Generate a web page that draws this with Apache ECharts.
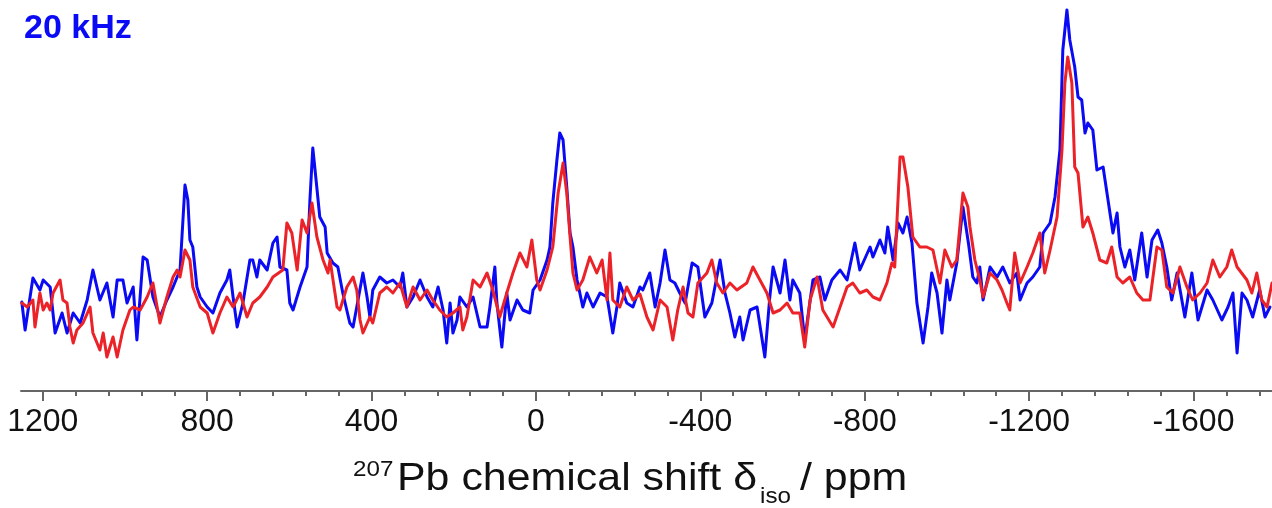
<!DOCTYPE html>
<html>
<head>
<meta charset="utf-8">
<script src="https://cdn.jsdelivr.net/npm/echarts@6/dist/echarts.min.js"></script>
<style>
html,body{margin:0;padding:0;background:#fff;}
#chart{width:1272px;height:508px;}
</style>
</head>
<body>
<div id="chart"></div>
<script>
// ---- data (ppm, intensity in arbitrary units) ----
const bluePpm = [1251,1243,1224,1207,1199,1182,1170,1153,1141,1126,1109,1092,1078,1061,1044,1029,1019,1005,995,980,971,956,946,932,915,898,883,866,854,847,842,835,825,817,800,786,769,752,745,737,727,713,696,689,679,672,654,640,630,623,606,599,591,574,557,550,543,535,526,513,508,494,482,470,453,445,436,421,411,404,397,380,363,348,331,324,314,299,282,265,251,238,226,217,209,202,192,185,168,153,136,119,112,100,95,83,71,63,46,32,15,7,-10,-27,-34,-41,-51,-58,-66,-75,-83,-90,-100,-114,-124,-139,-156,-173,-187,-197,-204,-221,-236,-253,-260,-277,-290,-302,-314,-326,-338,-350,-363,-380,-394,-411,-428,-448,-460,-472,-484,-496,-504,-521,-538,-557,-569,-577,-594,-606,-618,-625,-642,-654,-674,-691,-703,-720,-740,-757,-776,-788,-813,-820,-837,-849,-856,-869,-881,-893,-903,-915,-927,-942,-954,-963,-976,-988,-1000,-1007,-1024,-1039,-1053,-1063,-1073,-1080,-1088,-1105,-1122,-1136,-1153,-1170,-1178,-1195,-1209,-1226,-1234,-1251,-1263,-1275,-1282,-1292,-1299,-1311,-1319,-1328,-1336,-1343,-1355,-1365,-1380,-1392,-1404,-1414,-1421,-1433,-1445,-1457,-1474,-1487,-1499,-1513,-1523,-1535,-1547,-1560,-1579,-1596,-1611,-1633,-1647,-1669,-1684,-1696,-1706,-1718,-1730,-1744,-1761,-1774,-1786];
const blueInt = [89,61,113,101,111,104,58,78,58,78,68,91,121,91,108,74,111,111,88,104,51,134,131,94,74,91,104,121,206,191,151,144,104,94,84,78,98,111,121,94,64,88,131,131,114,131,121,148,154,124,121,88,81,104,124,191,243,211,174,164,138,128,124,98,68,64,84,118,94,74,101,114,108,111,104,118,84,94,111,94,84,104,81,48,88,58,71,94,84,94,64,64,84,124,88,44,98,71,91,81,78,101,111,131,144,188,231,258,251,204,158,144,111,84,98,84,98,94,58,84,108,88,84,104,101,118,84,108,141,111,108,98,88,128,124,74,88,131,98,78,54,74,51,81,84,34,94,124,98,131,91,111,98,51,111,114,91,111,121,111,148,121,144,134,151,138,164,131,168,158,174,148,88,48,84,118,98,58,111,91,128,184,146,114,108,124,91,124,114,124,108,118,91,108,114,124,158,168,194,241,341,381,351,324,294,291,258,268,261,221,224,191,158,178,144,124,141,111,158,114,151,161,148,124,91,118,74,118,71,101,91,71,84,98,38,98,91,74,101,74,84];
const redPpm = [1251,1238,1224,1219,1207,1199,1190,1182,1175,1158,1151,1141,1134,1126,1117,1102,1085,1078,1061,1053,1044,1029,1019,1005,988,980,963,946,932,915,898,883,873,866,854,842,835,817,800,786,769,752,737,720,703,689,672,654,640,616,606,594,581,569,557,545,533,518,506,501,484,477,460,445,436,428,421,404,397,380,363,348,331,314,299,282,265,251,234,217,202,185,178,168,153,136,119,105,88,71,56,39,22,10,-2,-10,-27,-41,-54,-66,-75,-83,-90,-100,-114,-131,-148,-161,-173,-180,-187,-204,-221,-236,-253,-270,-285,-302,-319,-333,-345,-358,-370,-382,-394,-416,-428,-440,-455,-472,-489,-513,-528,-545,-562,-577,-594,-611,-625,-642,-654,-667,-684,-698,-723,-740,-757,-771,-788,-805,-820,-837,-854,-866,-873,-886,-893,-905,-917,-934,-951,-966,-983,-995,-1012,-1024,-1039,-1051,-1056,-1068,-1080,-1088,-1105,-1122,-1134,-1146,-1153,-1165,-1178,-1195,-1209,-1226,-1238,-1251,-1268,-1280,-1287,-1294,-1304,-1311,-1319,-1331,-1343,-1355,-1372,-1389,-1401,-1414,-1428,-1445,-1462,-1477,-1494,-1511,-1523,-1535,-1550,-1567,-1584,-1598,-1616,-1633,-1647,-1664,-1681,-1693,-1706,-1730,-1742,-1754,-1766,-1779,-1791];
const redInt = [88,84,91,64,98,81,88,81,98,111,91,88,64,48,61,68,84,58,41,58,34,54,34,61,81,84,81,94,108,68,94,114,121,114,141,131,104,84,78,58,78,94,84,98,74,88,94,104,114,121,168,158,121,171,158,188,154,131,118,131,84,81,104,114,101,71,58,74,68,98,104,98,108,84,104,91,101,91,81,74,78,84,61,74,111,104,118,101,74,98,118,138,124,151,111,101,121,144,198,228,198,154,118,101,111,134,118,131,91,138,91,84,104,91,97,74,61,91,84,51,81,104,78,74,108,118,131,108,98,108,101,108,124,111,98,78,81,88,78,78,44,91,114,81,64,84,104,108,98,101,94,91,108,128,124,234,234,204,154,144,144,141,108,141,124,131,198,184,164,131,111,94,118,111,101,88,81,138,108,124,138,158,118,141,174,241,308,334,308,224,218,164,174,158,131,128,144,114,108,114,98,91,91,144,141,104,98,124,104,91,98,108,131,114,124,141,124,111,98,118,91,84,108];
const majorTicks = [1200, 800, 400, 0, -400, -800, -1200, -1600];
const titleText = '20 kHz';

const PPM_MIN = -1791, PPM_MAX = 1253;
const minorTicks = [];
for (let v = -1760; v <= 1200; v += 80) if (v % 400 !== 0) minorTicks.push(v);

const blueData = bluePpm.map((p, i) => [p, blueInt[i]]);
const redData = redPpm.map((p, i) => [p, redInt[i]]);

const FONT = '"Liberation Sans", Arial, Helvetica, sans-serif';
const SX = 1.1;
function label(text, x, y, size) {
  return {type: 'text', x: x, y: y, scaleX: SX, scaleY: 1, originX: 0, originY: 0, silent: true,
    style: {text: text, fontSize: size, fontFamily: FONT, fill: '#111', textAlign: 'left', textVerticalAlign: 'top'}};
}
const chart = echarts.init(document.getElementById('chart'), null, {renderer: 'canvas'});
chart.setOption({
  animation: false,
  backgroundColor: '#ffffff',
  title: {
    text: titleText, left: 24, top: 12, padding: 0,
    textStyle: {color: '#0a0af5', fontSize: 34, fontWeight: 'bold', fontFamily: FONT}
  },
  grid: {left: 21, right: 0, top: 0, bottom: 117, containLabel: false, outerBoundsMode: 'none'},
  xAxis: [{
    type: 'value', inverse: true, min: PPM_MIN, max: PPM_MAX,
    splitLine: {show: false},
    axisLine: {show: true, onZero: false, lineStyle: {color: '#666', width: 2}},
    axisTick: {show: true, customValues: majorTicks, length: 10, lineStyle: {color: '#666', width: 2}},
    axisLabel: {show: true, customValues: majorTicks, margin: 15, fontSize: 32, color: '#111', fontFamily: FONT,
      formatter: v => String(v), hideOverlap: false}
  }, {
    type: 'value', inverse: true, min: PPM_MIN, max: PPM_MAX, position: 'bottom',
    splitLine: {show: false},
    axisLine: {show: false, onZero: false},
    axisTick: {show: true, customValues: minorTicks, length: 5, lineStyle: {color: '#666', width: 2}},
    axisLabel: {show: false}
  }],
  yAxis: {type: 'value', min: 0, max: 391, show: false},
  series: [{
    type: 'line', name: 'blue', data: blueData, xAxisIndex: 0, showSymbol: false, symbol: 'none',
    lineStyle: {color: '#0a0af5', width: 3, join: 'round', cap: 'round'}, silent: true
  }, {
    type: 'line', name: 'red', data: redData, xAxisIndex: 0, showSymbol: false, symbol: 'none',
    lineStyle: {color: '#eb2228', width: 3, join: 'round', cap: 'round'}, silent: true
  }],
  graphic: [
    label('207', 353, 459, 22),
    label('Pb chemical shift δ', 397, 460, 39),
    label('iso', 760, 486, 22),
    label('/ ppm', 800, 460, 39)
  ]
});
</script>
</body>
</html>
